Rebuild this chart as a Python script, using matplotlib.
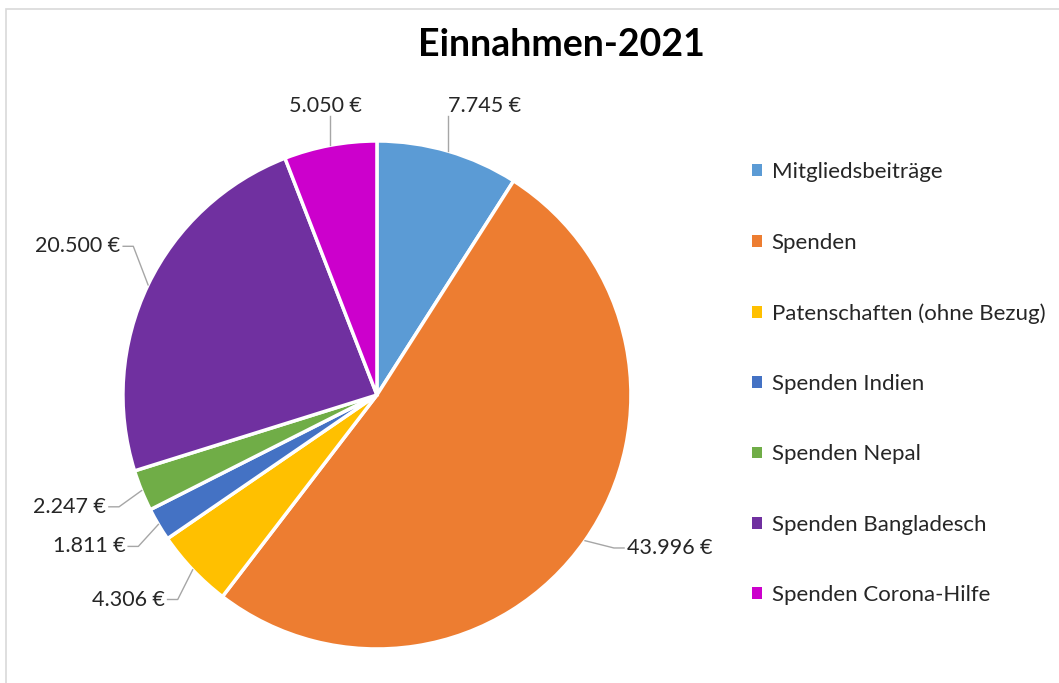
import numpy as np
import matplotlib
matplotlib.use('Agg')
import matplotlib.pyplot as plt
from matplotlib.patches import Rectangle, Patch

plt.rcParams['font.family'] = ['Lato', 'DejaVu Sans']

# Daten
kategorien = ['Mitgliedsbeiträge', 'Spenden', 'Patenschaften (ohne Bezug)', 'Spenden Indien',
              'Spenden Nepal', 'Spenden Bangladesch', 'Spenden Corona-Hilfe']
werte = [7745, 43996, 4306, 1811, 2247, 20500, 5050]
farben = ['#5B9BD5', '#ED7D31', '#FFC000', '#4472C4', '#70AD47', '#7030A0', '#CC00CC']


def euro(v):
    return f'{v:,}'.replace(',', '.') + ' €'


fig = plt.figure(figsize=(10.59, 6.83), dpi=100)
fig.patches.append(Rectangle((6 / 1059, -0.02), 1.1, (683 - 9) / 683 + 0.02,
                             transform=fig.transFigure, fill=False,
                             edgecolor='#d9d9d9', linewidth=1.2))

ax = fig.add_axes([0.1161, 0.0498, 0.4797, 0.7438])
wedges, _ = ax.pie(werte, colors=farben, startangle=90, counterclock=False,
                   wedgeprops=dict(edgecolor='white', linewidth=2.5))
ax.set_xlim(-1, 1)
ax.set_ylim(-1, 1)
ax.set_aspect('equal')

# Beschriftungen mit Führungslinien
for w, v in zip(wedges, werte):
    ang = np.deg2rad((w.theta1 + w.theta2) / 2)
    c, s = np.cos(ang), np.sin(ang)
    x0, y0 = c, s
    if abs(c) < 0.35:
        # oben: senkrechte Linie
        ax.plot([x0, x0], [y0, 1.1], color='#a6a6a6', lw=1, clip_on=False)
        ax.text(x0 if c > 0 else x0 - 0.02, 1.1, euro(v), ha='left' if c > 0 else 'center',
                va='bottom', fontsize=15.5, color='#262626')
    else:
        sign = 1 if c > 0 else -1
        if sign > 0:
            xt, yt = 1.2 * c, 1.05 * s
        elif s > 0:
            xt, yt = 1.12 * c, 1.35 * s
        else:
            xt, yt = 1.15 * c, 1.17 * s
        xe = xt - sign * 0.05
        ax.plot([x0, xe, xt - sign * 0.01], [y0, yt, yt], color='#a6a6a6', lw=1, clip_on=False)
        ax.text(xt, yt, euro(v), ha='left' if sign > 0 else 'right', va='center',
                fontsize=15.5, color='#262626')

fig.text(0.53, 0.934, 'Einnahmen-2021', ha='center', va='center',
         fontsize=27, fontweight='bold', color='#000000')

handles = [Patch(facecolor=f, edgecolor='none') for f in farben]
fig.legend(handles, kategorien, loc='upper left', bbox_to_anchor=(0.691, 0.792),
           frameon=False, fontsize=16, handlelength=0.45, handleheight=0.45,
           handletextpad=0.45, labelspacing=2.27, labelcolor='#262626')

fig.savefig('out.png', dpi=100)
